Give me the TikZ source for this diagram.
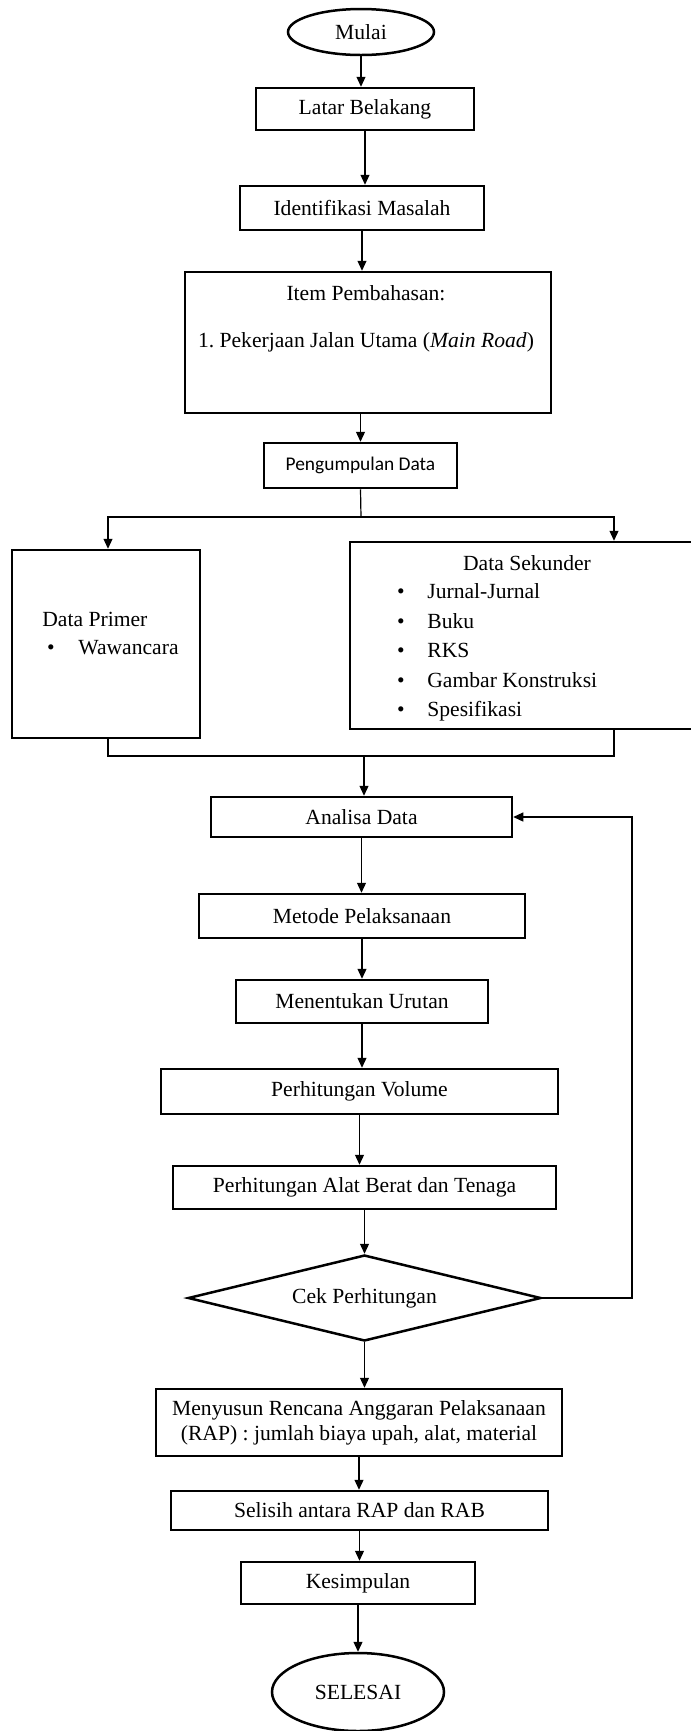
\documentclass[tikz,border=0pt]{standalone}
\usepackage{fontspec}
\setmainfont{Liberation Serif}
\newfontfamily\calibri{Carlito}
\usetikzlibrary{shapes.geometric,arrows.meta}

\tikzset{
  box/.style={draw, line width=1.25pt, rectangle, inner sep=0pt, align=center},
  terminal/.style={draw, line width=1.25pt, ellipse, inner sep=0pt},
  decision/.style={draw, line width=1.25pt, diamond, aspect=4, inner sep=0pt},
  txt/.style={inner sep=0pt},
  arr/.style={line width=0.6pt, -{Triangle[length=5pt,width=4.5pt]}},
  link/.style={line width=0.6pt},
}

\begin{document}
\begin{tikzpicture}[x=0.5pt, y=-0.5pt, font=\fontsize{10.8}{12.5}\selectfont]% coordinates in pixels
    \useasboundingbox (0,0) rectangle (691,1731);

    % start and problem
    \node[terminal, minimum width=73pt, minimum height=23pt] (mulai) at (361,32) {Mulai};
    \node[box, minimum width=109pt, minimum height=21pt] (latar) at (365,109) {Latar Belakang};
    \node[box, minimum width=122pt, minimum height=22pt] (identifikasi) at (362,208) {Identifikasi Masalah};
    \node[box, minimum width=183pt, minimum height=70.5pt] (item) at (368,342.5) {};
    \node[txt, anchor=base] at (366,300) {Item Pembahasan:};
    \node[txt, anchor=base] at (366,347) {1.\ Pekerjaan Jalan Utama (\textit{Main Road})};
    \node[box, minimum width=96.5pt, minimum height=22.5pt,
          font=\calibri\fontsize{9.7}{11}\selectfont] (pengumpulan) at (360.5,465.5) {Pengumpulan Data};

    % data
    \node[box, minimum width=94pt, minimum height=94pt] (primer) at (106,644) {};
    \node[txt, anchor=base west] at (42,626) {Data Primer};
    \node[txt, anchor=base] at (51,654) {\textbullet};
    \node[txt, anchor=base west] at (78,654) {Wawancara};

    \node[box, minimum width=175pt, minimum height=93.5pt] (sekunder) at (525,635.5) {};
    \node[txt, anchor=base] at (527,570) {Data Sekunder};
    \node[txt, anchor=base] at (401,598) {\textbullet};
    \node[txt, anchor=base west] at (427,598) {Jurnal-Jurnal};
    \node[txt, anchor=base] at (401,628) {\textbullet};
    \node[txt, anchor=base west] at (427,628) {Buku};
    \node[txt, anchor=base] at (401,657) {\textbullet};
    \node[txt, anchor=base west] at (427,657) {RKS};
    \node[txt, anchor=base] at (401,687) {\textbullet};
    \node[txt, anchor=base west] at (427,687) {Gambar Konstruksi};
    \node[txt, anchor=base] at (401,716) {\textbullet};
    \node[txt, anchor=base west] at (427,716) {Spesifikasi};

    % analysis
    \node[box, minimum width=150.5pt, minimum height=20pt] (analisa) at (361.5,817) {Analisa Data};
    \node[box, minimum width=163pt, minimum height=22pt] (metode) at (362,916) {Metode Pelaksanaan};
    \node[box, minimum width=126pt, minimum height=21.5pt] (urutan) at (362,1001.5) {Menentukan Urutan};
    \node[box, minimum width=198.5pt, minimum height=22.5pt] (volume) at (359.5,1091.5) {Perhitungan Volume};
    \node[box, minimum width=191.5pt, minimum height=21.5pt] (alat) at (364.5,1187.5) {Perhitungan Alat Berat dan Tenaga};
    \node[decision, minimum width=176.5pt, minimum height=43pt] (cek) at (364.5,1298) {Cek Perhitungan};

    % result
    \node[box, minimum width=203pt, minimum height=33.5pt] (rap) at (359,1422.5)
        {Menyusun Rencana Anggaran Pelaksanaan\\(RAP) : jumlah biaya upah, alat, material};
    \node[box, minimum width=188.5pt, minimum height=19.5pt] (selisih) at (359.5,1510.5) {Selisih antara RAP dan RAB};
    \node[box, minimum width=117pt, minimum height=21pt] (kesimpulan) at (358,1583) {Kesimpulan};
    \node[terminal, minimum width=86pt, minimum height=39pt] (selesai) at (358,1692) {SELESAI};

    \coordinate (split) at (361,517);
    \coordinate (splitL) at (108,517);
    \coordinate (splitR) at (614,517);
    \coordinate (merge) at (364,756);
    \coordinate (mergeL) at (108,756);
    \coordinate (mergeR) at (614,756);
    \coordinate (balik) at (632,1298);

    \draw[arr] (mulai.south) -- (mulai.south |- latar.north);
    \draw[arr] (latar.south) -- (latar.south |- identifikasi.north);
    \draw[arr] (identifikasi.south) -- (identifikasi.south |- item.north);
    \draw[arr] (pengumpulan.north |- item.south) -- (pengumpulan.north);
    \draw[link] (pengumpulan.south) -- (split);
    \draw[arr] (split) -- (splitL) -- (splitL |- primer.north);
    \draw[arr] (split) -- (splitR) -- (splitR |- sekunder.north);
    \draw[link] (mergeL |- primer.south) -- (mergeL) -- (mergeR) -- (mergeR |- sekunder.south);
    \draw[arr] (merge) -- (merge |- analisa.north);
    \draw[arr] (analisa.south) -- (analisa.south |- metode.north);
    \draw[arr] (metode.south) -- (metode.south |- urutan.north);
    \draw[arr] (urutan.south) -- (urutan.south |- volume.north);
    \draw[arr] (volume.south) -- (volume.south |- alat.north);
    \draw[arr] (alat.south) -- (alat.south |- cek.north);
    \draw[arr] (cek.east) -- (balik) |- (analisa.east);
    \draw[arr] (cek.south) -- (cek.south |- rap.north);
    \draw[arr] (rap.south) -- (rap.south |- selisih.north);
    \draw[arr] (selisih.south) -- (selisih.south |- kesimpulan.north);
    \draw[arr] (kesimpulan.south) -- (kesimpulan.south |- selesai.north);
\end{tikzpicture}
\end{document}
